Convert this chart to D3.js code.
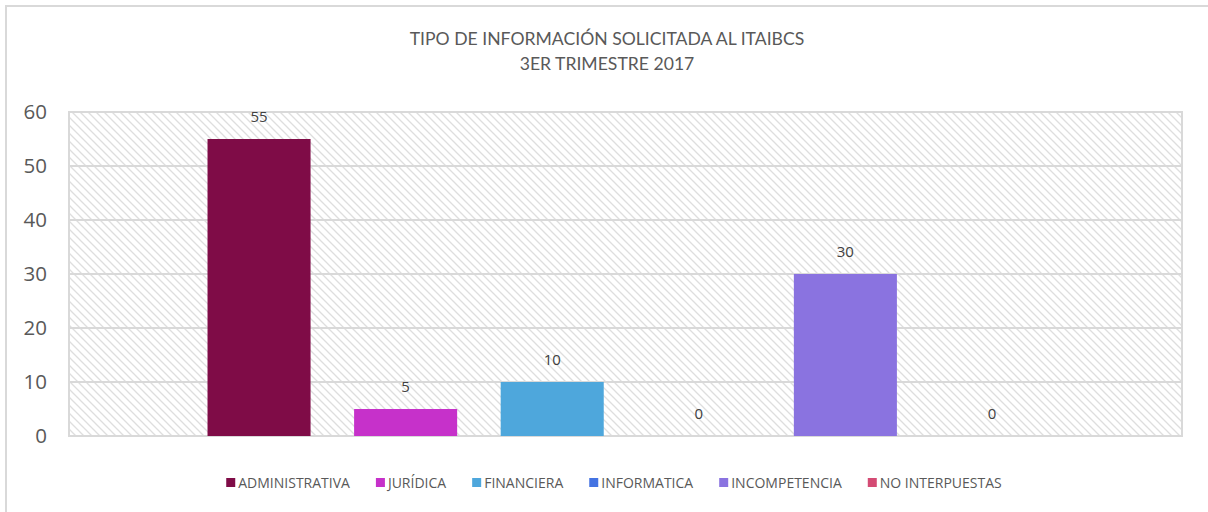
<!DOCTYPE html>
<html>
<head>
<meta charset="utf-8">
<script src="https://cdn.jsdelivr.net/npm/d3@7"></script>
<style>
  body { margin: 0; background: #fff; }
  svg { display: block; }
</style>
</head>
<body>
<div id="chart"></div>
<script>
(function () {
    "use strict";

    // chart data
    var categories = ['ADMINISTRATIVA', 'JURÍDICA', 'FINANCIERA', 'INFORMATICA', 'INCOMPETENCIA', 'NO INTERPUESTAS'];
    var values = [55, 5, 10, 0, 30, 0];
    var colors = ['#7f0c47', '#c631ca', '#4ea7dc', '#4473e2', '#8a73e0', '#d44b74'];
    var yTicks = [0, 10, 20, 30, 40, 50, 60];
    var titleLines = ['TIPO DE INFORMACIÓN SOLICITADA AL ITAIBCS', '3ER TRIMESTRE 2017'];

    var width = 1208, height = 512;
    var plot = {left: 69, right: 1182, top: 112, bottom: 436};

    var svg = d3.select('#chart').append('svg')
        .attr('width', width)
        .attr('height', height);

    // hatch pattern for plot background
    var defs = svg.append('defs');
    defs.append('pattern')
        .attr('id', 'hatch')
        .attr('patternUnits', 'userSpaceOnUse')
        .attr('width', 8)
        .attr('height', 8)
        .call(function (p) {
            p.append('rect').attr('width', 8).attr('height', 8).attr('fill', '#fff');
            p.append('path')
                .attr('d', 'M-2,-2 L10,10 M-2,6 L2,10 M6,-2 L10,2')
                .attr('stroke', '#dedede')
                .attr('stroke-width', 1.3);
        });

    // outer chart border (left + top only visible)
    svg.append('path')
        .attr('d', 'M6,' + height + ' V6 H' + width)
        .attr('fill', 'none')
        .attr('stroke', '#d9d9d9')
        .attr('stroke-width', 2);

    // title
    svg.append('g').selectAll('text')
        .data(titleLines)
        .enter().append('text')
        .attr('x', 607)
        .attr('y', function (d, i) { return 45 + i * 25; })
        .attr('text-anchor', 'middle')
        .style('font-family', 'Lato, "Open Sans", sans-serif')
        .style('font-size', '17.6px')
        .style('fill', '#595959')
        .text(function (d) { return d; });

    var x = d3.scaleBand()
        .domain(categories)
        .range([plot.left, plot.right])
        .paddingInner(0.297)
        .paddingOuter(0.945);

    var y = d3.scaleLinear()
        .domain([0, 60])
        .range([plot.bottom, plot.top]);

    // plot area
    svg.append('rect')
        .attr('x', plot.left)
        .attr('y', plot.top)
        .attr('width', plot.right - plot.left)
        .attr('height', plot.bottom - plot.top)
        .attr('fill', 'url(#hatch)');

    // gridlines
    svg.append('g').selectAll('line')
        .data(yTicks)
        .enter().append('line')
        .attr('x1', plot.left)
        .attr('x2', plot.right)
        .attr('y1', function (d) { return y(d); })
        .attr('y2', function (d) { return y(d); })
        .attr('stroke', '#d9d9d9')
        .attr('stroke-width', 2);

    svg.append('rect')
        .attr('x', plot.left)
        .attr('y', plot.top)
        .attr('width', plot.right - plot.left)
        .attr('height', plot.bottom - plot.top)
        .attr('fill', 'none')
        .attr('stroke', '#d9d9d9')
        .attr('stroke-width', 2);

    // y axis
    var yAxis = svg.append('g')
        .attr('transform', 'translate(' + (plot.left - 22) + ',0)')
        .call(d3.axisLeft(y).tickValues(yTicks).tickSize(0).tickPadding(0));
    yAxis.select('.domain').remove();
    yAxis.selectAll('text')
        .style('font-family', '"Open Sans", sans-serif')
        .style('font-size', '20.5px')
        .style('fill', '#595959');

    // bars
    svg.append('g').selectAll('rect')
        .data(values)
        .enter().append('rect')
        .attr('x', function (d, i) { return x(categories[i]); })
        .attr('y', function (d) { return y(d); })
        .attr('width', x.bandwidth())
        .attr('height', function (d) { return y(0) - y(d); })
        .attr('fill', function (d, i) { return colors[i]; });

    // data labels
    svg.append('g').selectAll('text')
        .data(values)
        .enter().append('text')
        .attr('x', function (d, i) { return x(categories[i]) + x.bandwidth() / 2; })
        .attr('y', function (d) { return y(d) - 17; })
        .attr('text-anchor', 'middle')
        .style('font-family', '"Open Sans", sans-serif')
        .style('font-size', '15px')
        .style('fill', '#404040')
        .text(function (d) { return d; });

    // legend
    var legend = svg.append('g');
    var items = legend.selectAll('g')
        .data(categories)
        .enter().append('g');
    items.append('rect')
        .attr('width', 9)
        .attr('height', 9)
        .attr('y', -10)
        .attr('fill', function (d, i) { return colors[i]; });
    items.append('text')
        .attr('x', 12)
        .style('font-family', '"Open Sans", sans-serif')
        .style('font-size', '14px')
        .style('fill', '#595959')
        .text(function (d) { return d; });

    var gap = 26, pos = 0, offsets = [];
    items.each(function () {
        offsets.push(pos);
        pos += 12 + d3.select(this).select('text').node().getComputedTextLength() + gap;
    });
    var total = pos - gap;
    var startX = 614 - total / 2;
    items.attr('transform', function (d, i) { return 'translate(' + (startX + offsets[i]) + ',488)'; });
})();
</script>
</body>
</html>
